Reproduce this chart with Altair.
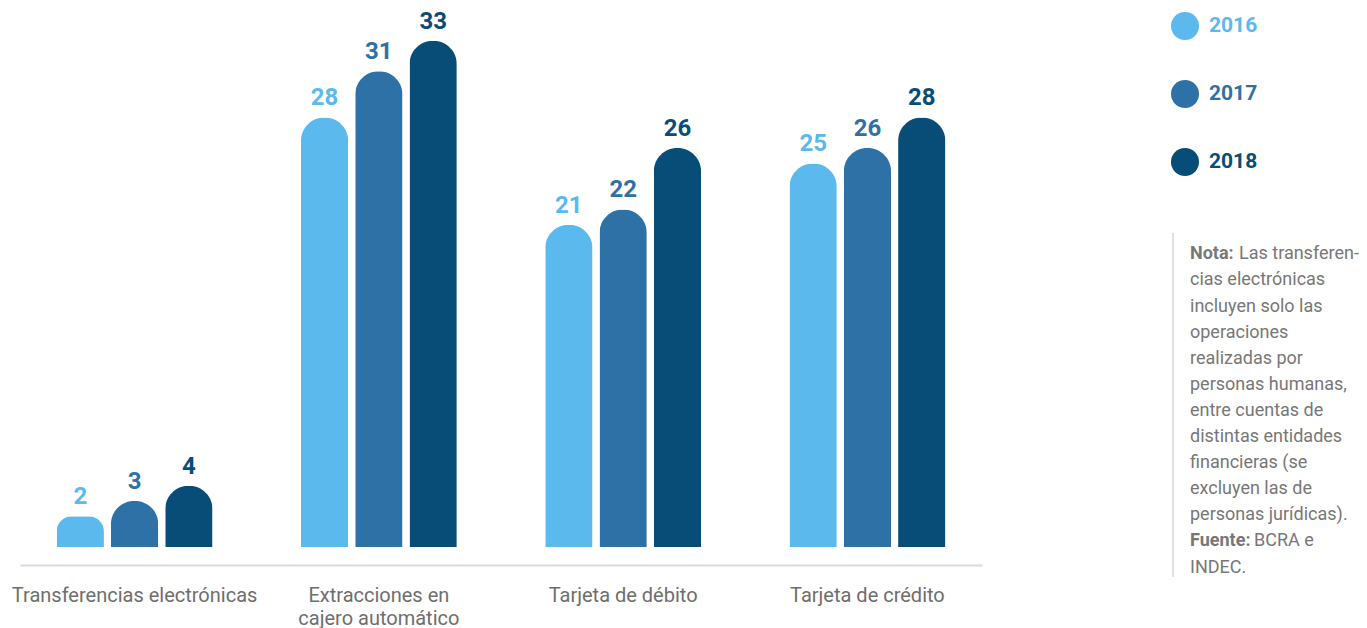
import altair as alt
import pandas as pd

categories = ["Transferencias electrónicas", "Extracciones en cajero automático",
              "Tarjeta de débito", "Tarjeta de crédito"]
years = ["2016", "2017", "2018"]
values_2016 = [2, 28, 21, 25]
values_2017 = [3, 31, 22, 26]
values_2018 = [4, 33, 26, 28]
colors = ["#5BB9EE", "#2E71A6", "#084C78"]

note_bold = ["Nota:", "", "", "", "", "", "", "", "", "", "", "Fuente:", ""]
note_rest = ["Las transferen-", "cias electrónicas", "incluyen solo las", "operaciones",
             "realizadas por", "personas humanas,", "entre cuentas de",
             "distintas entidades", "financieras (se", "excluyen las de",
             "personas jurídicas).", "BCRA e", "INDEC."]

rows = []
for y, vals in zip(years, [values_2016, values_2017, values_2018]):
    for c, v in zip(categories, vals):
        rows.append({"categoria": c, "anio": y, "valor": v})
df = pd.DataFrame(rows)

FONT = "Roboto"
W, H = 962, 537

x_enc = alt.X("categoria:N", sort=categories, title=None,
              scale=alt.Scale(paddingInner=0.362, paddingOuter=0.15),
              axis=alt.Axis(offset=18, domainColor="#d9d9d9", domainWidth=2,
                            ticks=False, labelAngle=0, labelFontSize=20,
                            labelFont=FONT, labelColor="#6e6e6e", labelPadding=20,
                            labelLineHeight=23, labelLimit=400,
                            labelExpr="datum.label == 'Extracciones en cajero automático' ? ['Extracciones en', 'cajero automático'] : datum.label"))
xo_enc = alt.XOffset("anio:N", sort=years, scale=alt.Scale(paddingInner=0.129, paddingOuter=0))
y_enc = alt.Y("valor:Q", scale=alt.Scale(domain=[0, 35]), axis=None)
color_enc = alt.Color("anio:N", sort=years,
                      scale=alt.Scale(domain=years, range=colors),
                      legend=alt.Legend(title=None, orient="none", legendX=1151, legendY=2,
                                        padding=0, symbolType="circle", symbolSize=784,
                                        symbolStrokeWidth=0, symbolOpacity=1,
                                        labelFontSize=21, labelFont=FONT, labelFontWeight="bold",
                                        labelOffset=10, rowPadding=40,
                                        labelColor={"expr": "datum.label == '2016' ? '#5BB9EE' : datum.label == '2017' ? '#2E71A6' : '#084C78'"}))

bars = alt.Chart(df).mark_bar(cornerRadiusTopLeft=23.5, cornerRadiusTopRight=23.5).encode(
    x=x_enc, xOffset=xo_enc, y=y_enc, color=color_enc)

labels = alt.Chart(df).mark_text(font=FONT, fontSize=24, fontWeight="bold",
                                 baseline="alphabetic", dy=-12).encode(
    x=alt.X("categoria:N", sort=categories), xOffset=alt.XOffset("anio:N", sort=years),
    y=alt.Y("valor:Q"), text="valor:Q",
    color=alt.Color("anio:N", sort=years))

main = alt.layer(bars, labels)

note_rows = []
for i, (b, r) in enumerate(zip(note_bold, note_rest)):
    note_rows.append({"bold": b, "rest": r,
                      "py": 249.3 + i * 26.1,
                      "px_bold": 1170,
                      "px_rest": 1170 + (49 if b == "Nota:" else 64 if b else 0)})
note_df = pd.DataFrame(note_rows)

note_bold_layer = alt.Chart(note_df).mark_text(font=FONT, fontSize=18, fontWeight="bold",
                                               color="#777777", align="left",
                                               baseline="alphabetic").encode(
    x=alt.X("px_bold:Q", scale=None, axis=None),
    y=alt.Y("py:Q", scale=None, axis=None), text="bold:N")
note_rest_layer = alt.Chart(note_df).mark_text(font=FONT, fontSize=18,
                                               color="#777777", align="left",
                                               baseline="alphabetic").encode(
    x=alt.X("px_rest:Q", scale=None, axis=None),
    y=alt.Y("py:Q", scale=None, axis=None), text="rest:N")

note_line = alt.Chart(pd.DataFrame({"x": [1153], "y": [223], "y2": [567]})).mark_rule(
    color="#cccccc", strokeWidth=1.2).encode(
    x=alt.X("x:Q", scale=None, axis=None),
    y=alt.Y("y:Q", scale=None, axis=None),
    y2="y2:Q")

note = alt.layer(note_line, note_bold_layer, note_rest_layer)

chart = alt.layer(main, note).resolve_scale(
    x="independent", y="independent"
).properties(
    width=W, height=H,
    autosize=alt.AutoSizeParams(type="none"),
    padding={"left": 12, "top": 2, "right": 1351 - 12 - W, "bottom": 620 - 2 - H},
    view=alt.ViewBackground(stroke="transparent", strokeWidth=0),
).configure(font=FONT).configure_view(stroke="transparent", strokeWidth=0)

chart.save("out.html", embed_options={"renderer": "svg", "actions": False})
